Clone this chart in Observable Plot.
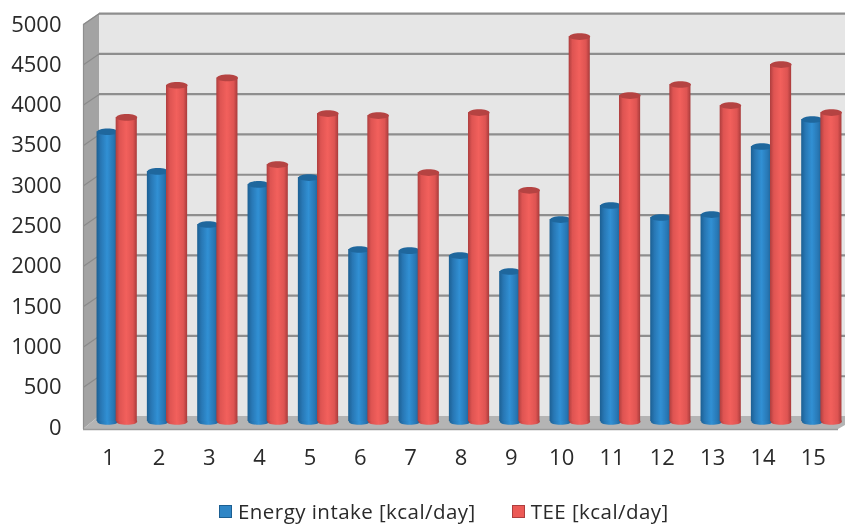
<!DOCTYPE html>
<html><head><meta charset="utf-8">
<script src="https://cdn.jsdelivr.net/npm/d3@7"></script>
<script src="https://cdn.jsdelivr.net/npm/@observablehq/plot@0.6"></script>
<style>
html,body{margin:0;padding:0;background:#fff;width:845px;height:526px;overflow:hidden}
#chart svg{display:block;filter:blur(.4px)}
#legend{display:flex;align-items:center;height:23px;margin-top:5px;margin-left:219px;font:20.5px/1 "Open Sans",sans-serif;letter-spacing:.45px;color:#2a2a2a;filter:blur(.4px)}
#legend i{display:inline-block;width:11px;height:11px;border:1.5px solid;margin-right:6px}
#legend span{display:flex;align-items:center;white-space:nowrap;line-height:23px}
</style></head><body>
<div id="chart"></div>
<div id="legend"></div>
<script>
const categories = [1,2,3,4,5,6,7,8,9,10,11,12,13,14,15];
const energyIntake = [3595,3102,2444,2941,3027,2134,2119,2059,1861,2506,2680,2531,2568,3412,3747];
const tee = [3772,4172,4263,3188,3821,3796,3089,3833,2868,4776,4044,4181,3920,4429,3833];
const yTicks = [0,500,1000,1500,2000,2500,3000,3500,4000,4500,5000];
const seriesNames = ["Energy intake [kcal/day]","TEE [kcal/day]"];

// 3D depth of the chart box, in data units
const depthX = 0.318, depthY = 136, floorFront = -25;
const left = 0.5, right = 15.5, rightBack = 15.95;
const bw = 0.21, off = 0.19;

const blue = categories.map((c,i)=>({c, v:energyIntake[i], x:c-off}));
const red  = categories.map((c,i)=>({c, v:tee[i], x:c+off}));

const ellipse = {draw(ctx,size){
  const rx=Math.sqrt(size/Math.PI), ry=rx*0.32, k=0.5523;
  ctx.moveTo(-rx,0);
  ctx.bezierCurveTo(-rx,-ry*k,-rx*k,-ry,0,-ry);
  ctx.bezierCurveTo(rx*k,-ry,rx,-ry*k,rx,0);
  ctx.bezierCurveTo(rx,ry*k,rx*k,ry,0,ry);
  ctx.bezierCurveTo(-rx*k,ry,-rx,ry*k,-rx,0);
  ctx.closePath();
}};

const defs = () => d3.create("svg:defs").html(`
<linearGradient id="gb"><stop offset="0" stop-color="#1c5f92"/><stop offset=".2" stop-color="#2877b4"/><stop offset=".5" stop-color="#3190d4"/><stop offset=".8" stop-color="#2877b4"/><stop offset="1" stop-color="#1c5f92"/></linearGradient>
<linearGradient id="gr"><stop offset="0" stop-color="#ad3e3e"/><stop offset=".18" stop-color="#de5452"/><stop offset=".5" stop-color="#f2605c"/><stop offset=".82" stop-color="#de5452"/><stop offset="1" stop-color="#a83b3b"/></linearGradient>`).node();

function bars(data, grad, top){
  const o = {dx:8.5, dy:-6};
  return [
    Plot.dot(data,{x:"x",y:()=>0,r:10.5,symbol:ellipse,fill:grad,...o}),
    Plot.rect(data,{x1:d=>d.x-bw,x2:d=>d.x+bw,y1:()=>0,y2:"v",fill:grad,...o}),
    Plot.dot(data,{x:"x",y:"v",r:10.5,symbol:ellipse,fill:top,...o})
  ];
}

const chart = Plot.plot({
  width:845, height:495,
  marginLeft:83, marginRight:7, marginTop:24, marginBottom:68,
  style:{fontFamily:"'Open Sans',sans-serif",fontSize:"22px",color:"#2a2a2a",background:"#fff"},
  x:{type:"linear",domain:[left,right]},
  y:{type:"linear",domain:[0,5000]},
  marks:[
    defs,
    // back wall
    Plot.rect([0],{x1:()=>left+depthX,x2:()=>rightBack,y1:()=>depthY,y2:()=>5000+depthY,fill:"#e6e6e6"}),
    // left wall
    Plot.areaY([{x:left,a:floorFront,b:5000},{x:left+depthX,a:depthY,b:5000+depthY}],{x:"x",y1:"a",y2:"b",fill:"#a3a3a3"}),
    // floor
    Plot.areaX([{y:floorFront,a:left,b:right},{y:depthY,a:left+depthX,b:rightBack}],{y:"y",x1:"a",x2:"b",fill:"#b4b4b4"}),
    // gridlines on wall
    Plot.link(yTicks.slice(1),{x1:()=>left,x2:()=>left+depthX,y1:d=>d,y2:d=>d+depthY,stroke:"#8a8a8a",strokeWidth:1.2}),
    Plot.ruleY(yTicks.slice(1),{x1:()=>left+depthX,x2:()=>rightBack,y:d=>d+depthY,stroke:"#8e8e8e",strokeWidth:2.2}),
    Plot.ruleX([0],{x:()=>left,y1:()=>floorFront,y2:()=>5000,stroke:"#8e8e8e",strokeWidth:1.2}),
    Plot.ruleY([0],{y:()=>floorFront,x1:()=>left,x2:()=>right,stroke:"#9a9a9a",strokeWidth:1.5}),
    ...bars(blue,"url(#gb)","#1f679d"),
    ...bars(red,"url(#gr)","#b54342"),
    Plot.axisY({ticks:yTicks,tickSize:0,tickPadding:22,fontSize:22,label:null,tickFormat:d=>String(d)}),
    Plot.axisX({ticks:categories,tickSize:0,tickPadding:22,fontSize:22,label:null,tickFormat:d=>String(d)})
  ]
});
document.getElementById("chart").append(chart);

const lg = document.getElementById("legend");
const cols = [["#2f86c6","#1c5f92",0],["#ec5a56","#ad3e3e",36]];
seriesNames.forEach((n,i)=>{
  const s=document.createElement("span");
  s.style.marginLeft=cols[i][2]+"px";
  s.innerHTML=`<i style="background:${cols[i][0]};border-color:${cols[i][1]}"></i>${n}`;
  lg.append(s);
});
</script></body></html>
